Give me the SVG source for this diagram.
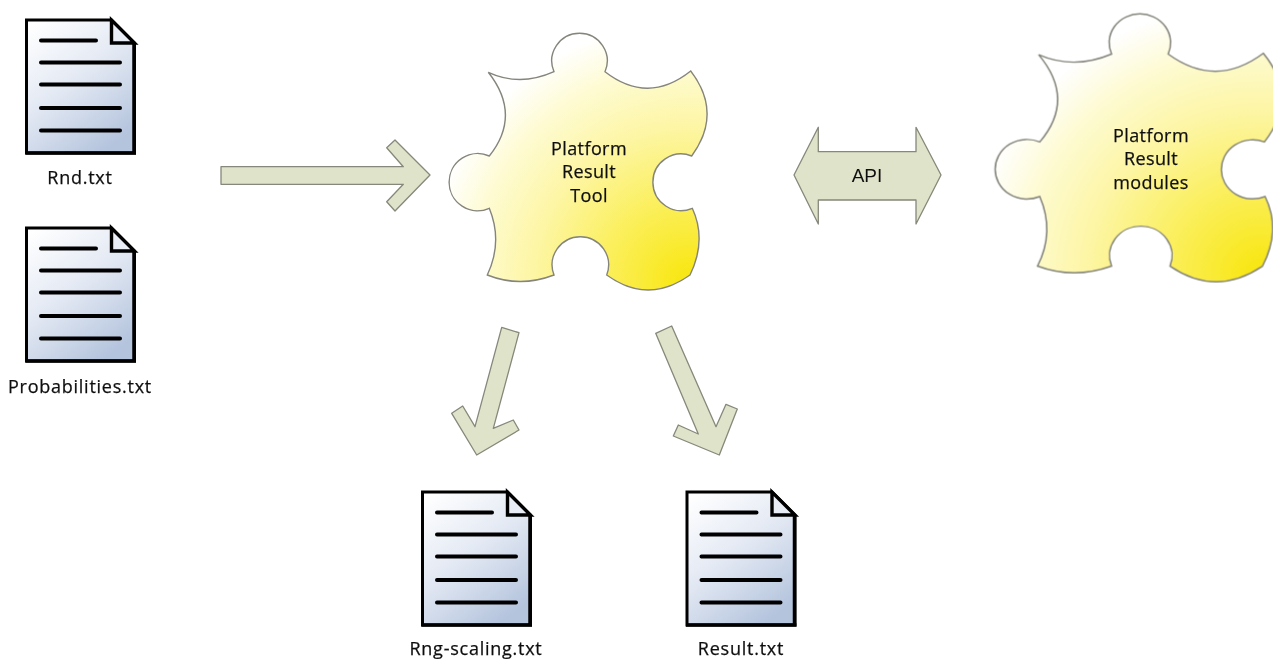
<svg xmlns="http://www.w3.org/2000/svg" width="1273" height="659" viewBox="0 0 1273 659">
<style>
.lbl{font-family:"Open Sans","DejaVu Sans",sans-serif;font-size:18px;letter-spacing:.4px;fill:#111;stroke:#111;stroke-width:.25;text-anchor:middle}
.file{letter-spacing:.75px}
.arrow{fill:#dfe3c9;stroke:#85887a;stroke-width:1.3;stroke-linejoin:round}
.piece{fill:url(#py);stroke:#85857c;stroke-width:1.4;vector-effect:non-scaling-stroke}
.sheet{fill:url(#dg);stroke:#000;stroke-width:3;stroke-linejoin:miter}
.fold{fill:#e9edf6;stroke:#000;stroke-width:3.4}
.ln{stroke:#000;stroke-width:4;stroke-linecap:round}
.edge{fill:none;stroke:#000;stroke-width:3.5}
</style>
<defs>
<filter id="soft" x="-2%" y="-2%" width="104%" height="104%"><feGaussianBlur stdDeviation="0.55"/></filter>
<radialGradient id="py" cx="0.93" cy="0.97" r="1.02">
<stop offset="0" stop-color="#f8e60c"/>
<stop offset="0.32" stop-color="#fbef5c"/>
<stop offset="0.6" stop-color="#fdf6a6"/>
<stop offset="0.82" stop-color="#fefbd2"/>
<stop offset="1" stop-color="#ffffff"/>
</radialGradient>
<linearGradient id="dg" x1="0.1" y1="0" x2="0.7" y2="1">
<stop offset="0" stop-color="#ffffff"/>
<stop offset="0.5" stop-color="#e2e8f3"/>
<stop offset="1" stop-color="#b4c4dd"/>
</linearGradient>
<path id="pz" d="M488.3 72.3 Q520 87 554 71.7 A27.7 27.7 0 1 1 605 71.7 Q648 105 690.7 71 Q723 113 691.7 156 A28.3 28.3 0 1 0 692.3 208.3 Q707 240 690 275 Q648 305 606.7 275 A28.2 28.2 0 1 0 554 275 Q520 288 487.3 275 Q503 242 489.3 208.3 A28.6 28.6 0 1 1 489.3 156 Q522 115 488.3 72.3 Z"/>
<g id="doc">
<path class="sheet" d="M26.5 20 H111.5 L134.5 43 V153 H26.5 Z"/>
<path class="fold" d="M111.5 20 V43 H134.5 Z"/>
<path class="edge" d="M25.5 153 H136 M134 43 V154"/>
<path class="ln" d="M41 40.5 H96 M41 62.5 H120 M41 84.5 H120 M41 108 H120 M41 130.5 H120"/>
</g>
</defs>
<g filter="url(#soft)">
<g id="connectors">
<path id="arrow-in" class="arrow" d="M221 166.7 H403.3 L386.7 147.7 L395 140 L430 175 L395 211 L386.7 201.7 L403.3 184.3 H221 Z"/>
<path id="arrow-api" class="arrow" d="M794 175 L818.3 127.3 V151.7 H916 V127.3 L941 175 L916 224 V200 H818.3 V224 Z"/>
<path id="arrow-rng" class="arrow" d="M501.7 327.3 L519 332.7 L493.3 428.3 L513.3 420 L519 430 L476.7 455 L451.7 413.3 L462.7 406 L475 426.7 Z"/>
<path id="arrow-result" class="arrow" d="M655.7 333.3 L671.7 326 L716 426.7 L726 404.3 L737.3 409 L719.3 455 L673.3 436 L678.3 425 L698.3 434 Z"/>
</g>
<g id="doc-rnd"><use href="#doc"/><text class="lbl file" x="80" y="184">Rnd.txt</text></g>
<g id="doc-probabilities"><use href="#doc" y="208"/><text class="lbl file" x="80" y="393">Probabilities.txt</text></g>
<g id="doc-rng"><use href="#doc" x="396" y="472"/><text class="lbl file" x="476" y="655">Rng-scaling.txt</text></g>
<g id="doc-result"><use href="#doc" x="660.5" y="472"/><text class="lbl file" x="741" y="655">Result.txt</text></g>
<g id="piece-tool">
<use href="#pz" class="piece"/>
<text class="lbl" x="589" y="155">Platform</text>
<text class="lbl" x="589" y="178">Result</text>
<text class="lbl" x="589" y="202">Tool</text>
</g>
<g id="piece-modules">
<use href="#pz" class="piece" transform="translate(995 14) scale(1.11 1.043) translate(-449 -33.3)"/>
<text class="lbl" x="1151" y="142">Platform</text>
<text class="lbl" x="1151" y="165">Result</text>
<text class="lbl" x="1151" y="189">modules</text>
</g>
<text x="867" y="181.5" style="font-family:'Liberation Sans',Arial,sans-serif;font-size:19px;fill:#111;text-anchor:middle">API</text>
</g>
</svg>
